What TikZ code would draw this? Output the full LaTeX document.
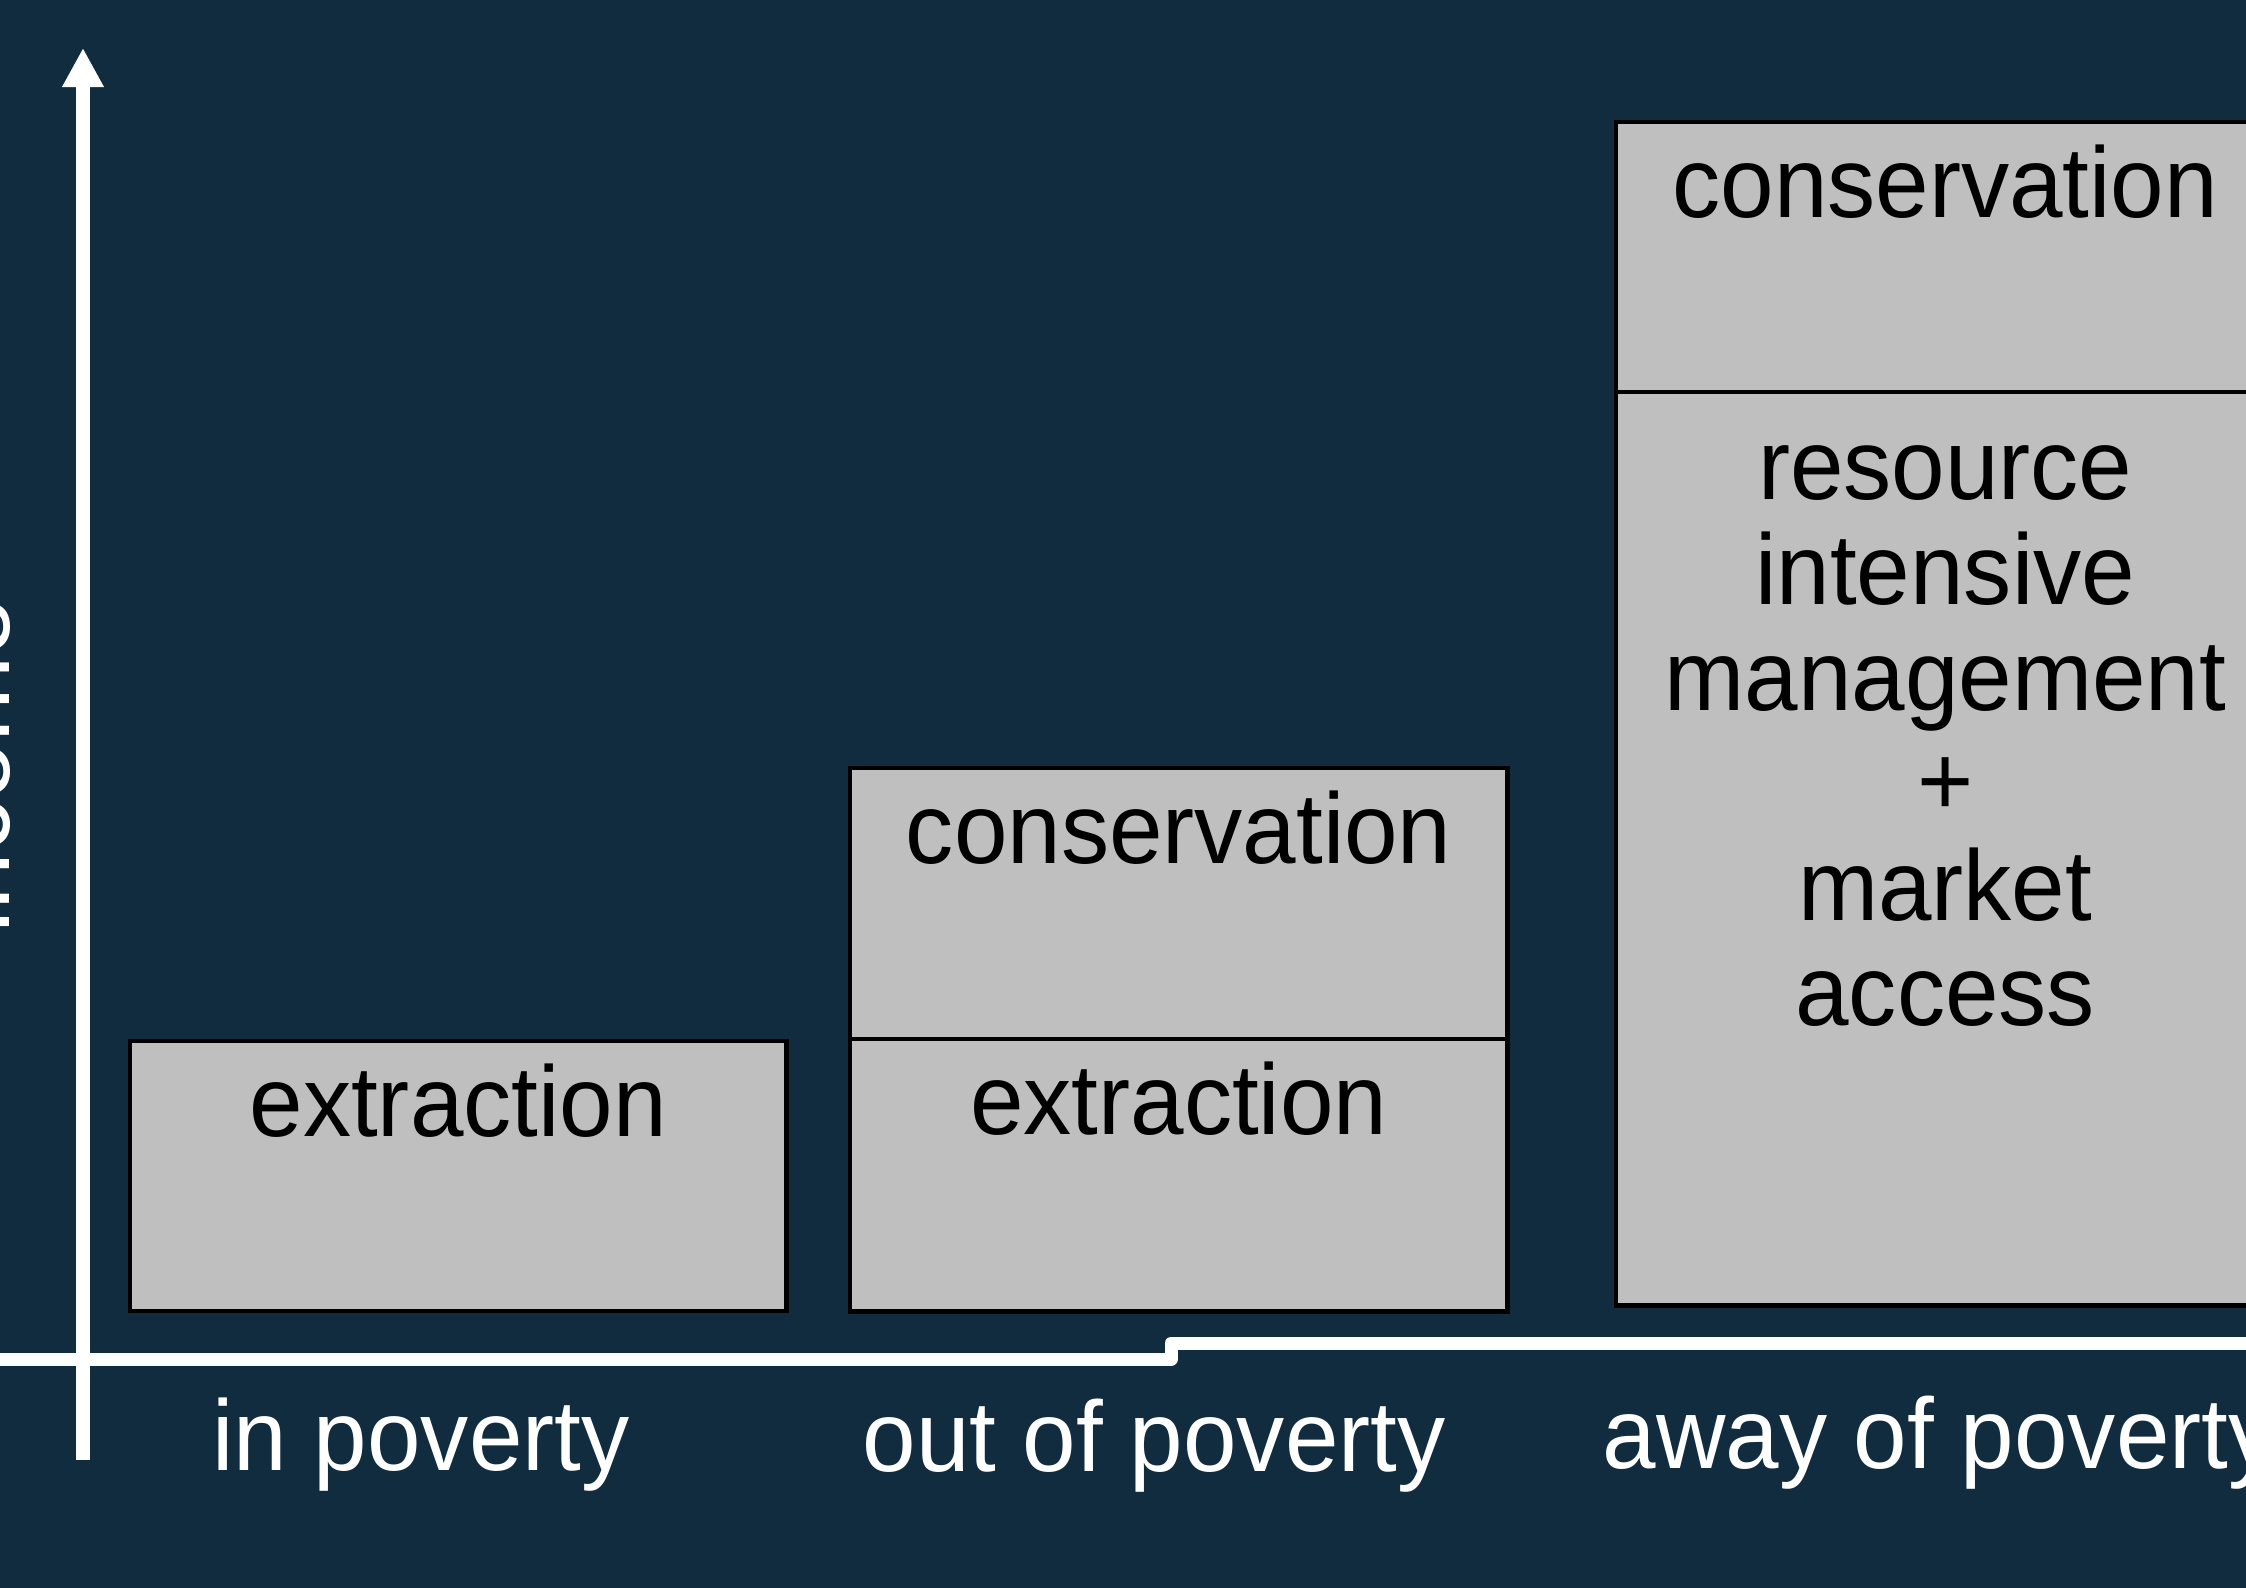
\documentclass[tikz,border=0pt]{standalone}
\usepackage{fontspec}
\setmainfont{Liberation Sans}[FakeStretch=0.96]
\newfontfamily\incomefont{Liberation Sans}
\usetikzlibrary{arrows.meta,positioning}
\definecolor{bgnavy}{RGB}{17,43,63}
\definecolor{cellgray}{RGB}{191,191,191}

\begin{document}
\begin{tikzpicture}[x=0.01cm,y=-0.01cm,
    cell/.style={draw=black,line width=1.3pt,fill=cellgray,inner sep=0pt,outer sep=0pt,anchor=north west},
    celltext/.style={font=\fontsize{28.5}{29.9}\selectfont,text=black,align=center,inner sep=0pt},
    axislabel/.style={font=\fontsize{28.5}{29.9}\selectfont,text=white,inner sep=0pt,anchor=base},
    axisline/.style={draw=white,line width=0.13cm,line join=round}]
  \useasboundingbox (0,0) rectangle (2246,1587);
  \fill[bgnavy] (-20,-20) rectangle (2266,1607);

  % axes
  \coordinate (ybot) at (83,1460);
  \coordinate (ytop) at (83,48);
  \coordinate (xleft) at (-20,1359);
  \coordinate (xstep) at (1171,1359);
  \coordinate (xright) at (2270,1343);
  \draw[axisline,-{Triangle[width=0.39cm,length=0.39cm]}] (ybot) -- (ytop);
  \draw[axisline] (xleft) -- (xstep) |- (xright);

  % bars
  \node[cell,minimum width=6.56cm,minimum height=2.70cm] (ext1) at (130,1041) {};
  \node[cell,minimum width=6.57cm,minimum height=2.71cm] (cons2) at (850,768) {};
  \node[cell,minimum width=6.57cm,minimum height=2.72cm] (ext2) at (cons2.south west) {};
  \node[cell,minimum width=6.58cm,minimum height=2.70cm] (cons3) at (1616,122) {};
  \node[cell,minimum width=6.58cm,minimum height=9.13cm] (res3) at (cons3.south west) {};

  \node[celltext,below=0.95cm of ext1.north,anchor=base] (ext1text) {extraction};
  \node[celltext,below=0.95cm of cons2.north,anchor=base] (cons2text) {conservation};
  \node[celltext,below=0.95cm of ext2.north,anchor=base] (ext2text) {extraction};
  \node[celltext,below=0.95cm of cons3.north,anchor=base] (cons3text) {conservation};
  \node[celltext,below=0.53cm of res3.north] (res3text) {resource\\intensive\\management\\+\\market\\access};

  \node[axislabel] (inpov) at (421,1470) {in poverty};
  \node[axislabel] (outpov) at (1154,1471) {out of poverty};
  \node[axislabel,anchor=base west] (awaypov) at (1602,1468) {away of poverty};
  \node[axislabel,rotate=90,font=\incomefont\fontsize{29.5}{31}\selectfont] (income) at (9,766) {income};
\end{tikzpicture}
\end{document}
